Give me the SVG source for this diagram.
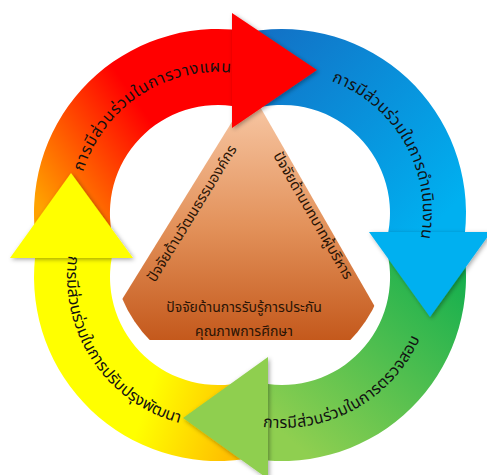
<svg xmlns="http://www.w3.org/2000/svg" width="487" height="475" viewBox="0 0 487 475">
<style>
.lbl{font-family:'Noto Sans Thai','Leelawadee UI',Tahoma,'Noto Sans','DejaVu Sans',sans-serif;fill:#111;}
.ring{font-size:16px;}
.tri{font-size:14.5px;fill:#2a1405;}
.tri2{font-size:14px;fill:#2a1405;}
</style>
<defs>
<linearGradient id="gRed" gradientUnits="userSpaceOnUse" x1="35" y1="200" x2="150" y2="120">
<stop offset="0" stop-color="#ffa200"/><stop offset="1" stop-color="#ff0000"/>
</linearGradient>
<linearGradient id="gBlue" gradientUnits="userSpaceOnUse" x1="260" y1="40" x2="440" y2="220">
<stop offset="0" stop-color="#1272c6"/><stop offset="1" stop-color="#00b0f0"/>
</linearGradient>
<linearGradient id="gGreen" gradientUnits="userSpaceOnUse" x1="450" y1="250" x2="290" y2="440">
<stop offset="0" stop-color="#10ae4e"/><stop offset="1" stop-color="#8fcf50"/>
</linearGradient>
<linearGradient id="gYellow" gradientUnits="userSpaceOnUse" x1="150" y1="390" x2="240" y2="420">
<stop offset="0" stop-color="#ffff00"/><stop offset="1" stop-color="#ffbf00"/>
</linearGradient>
<linearGradient id="gTri" gradientUnits="userSpaceOnUse" x1="0" y1="110" x2="0" y2="340">
<stop offset="0" stop-color="#f6c4a0"/><stop offset="0.5" stop-color="#e3925b"/><stop offset="1" stop-color="#c4591c"/>
</linearGradient>
<clipPath id="triClip"><circle cx="250" cy="244" r="139"/></clipPath>
<filter id="sh" x="-20%" y="-20%" width="140%" height="140%">
<feDropShadow dx="1.5" dy="1.5" stdDeviation="2" flood-opacity="0.35"/>
</filter>
<path id="tpRed" d="M 77.5 225.3 A 141 141 0 0 1 277.6 85.2"/>
<path id="tpBlue" d="M 283.2 72 A 141 141 0 0 1 403.5 284.6"/>
<path id="tpGreen" d="M 205.1 407 A 151 151 0 0 0 433 278.6"/>
<path id="tpYellow" d="M 82.9 209.6 A 151 151 0 0 0 227.2 427.7"/>
</defs>

<g id="triangle">
<polygon points="251,91 394,340 97,340" fill="url(#gTri)" clip-path="url(#triClip)"/>
<text class="lbl tri" transform="translate(196,216) rotate(-58.5)" text-anchor="middle">ปัจจัยด้านวัฒนธรรมองค์กร</text>
<text class="lbl tri" transform="translate(309,218) rotate(60)" text-anchor="middle">ปัจจัยด้านบทบาทผู้บริหาร</text>
<text class="lbl tri2" text-anchor="middle"><tspan x="244" y="312">ปัจจัยด้านการรับรู้การประกัน</tspan><tspan x="244" y="336">คุณภาพการศึกษา</tspan></text>
</g>

<g id="arrow-shafts">
<path id="shaft-red" d="M 36.8 245 A 184 184 0 0 1 232 29.5 L 232 105.9 A 108 108 0 0 0 114.8 245 Z" fill="url(#gRed)"/>
<path id="shaft-blue" d="M 250 31.8 A 184 184 0 0 1 465 232 L 388.3 232 A 108 108 0 0 0 250 109.8 Z" fill="url(#gBlue)"/>
<path id="shaft-green" d="M 463.2 245 A 184 184 0 0 1 268 460.5 L 268 384.1 A 108 108 0 0 0 385.2 245 Z" fill="url(#gGreen)"/>
<path id="shaft-yellow" d="M 245 459 A 184 184 0 0 1 35 258 L 111.7 258 A 108 108 0 0 0 245 381.6 Z" fill="url(#gYellow)"/>
</g>

<g id="connectors" filter="url(#sh)">
<polygon id="head-red" points="232,13 317,70 232,128" fill="#ff0000"/>
<polygon id="head-blue" points="369,232 491,232 430,317" fill="#00b0f0"/>
<polygon id="head-green" points="268,357 183,418 268,479" fill="#8fcf50"/>
<polygon id="head-yellow" points="10,258 71,173 133,258" fill="#ffff00"/>
</g>

<g id="node-plan">
<text class="lbl ring" letter-spacing="0.8"><textPath href="#tpRed" startOffset="51%" text-anchor="middle">การมีส่วนร่วมในการวางแผน</textPath></text>
</g>
<g id="node-do">
<text class="lbl ring" letter-spacing="0.3"><textPath href="#tpBlue" startOffset="50%" text-anchor="middle">การมีส่วนร่วมในการดำเนินงาน</textPath></text>
</g>
<g id="node-check">
<text class="lbl ring" letter-spacing="0.3"><textPath href="#tpGreen" startOffset="50%" text-anchor="middle">การมีส่วนร่วมในการตรวจสอบ</textPath></text>
</g>
<g id="node-act">
<text class="lbl ring"><textPath href="#tpYellow" startOffset="50%" text-anchor="middle">การมีส่วนร่วมในการปรับปรุงพัฒนา</textPath></text>
</g>
</svg>
